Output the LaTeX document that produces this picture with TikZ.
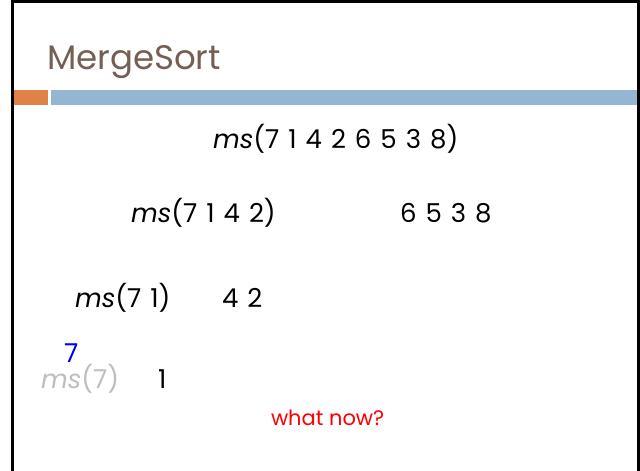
\documentclass[tikz,border=0pt]{standalone}
\usepackage{fontspec}
\setmainfont{Poppins}
\definecolor{titlebrown}{RGB}{117,95,85}
\definecolor{barorange}{RGB}{222,130,72}
\definecolor{barblue}{RGB}{149,182,211}
\definecolor{fadedgray}{RGB}{190,190,190}
% call text: larger size with wide word gaps between the numbers
\newcommand{\msfont}{\fontsize{26}{30}\selectfont\spaceskip=9pt plus 0pt minus 0pt\relax}
\begin{document}
\begin{tikzpicture}[x=1pt,y=-1pt,
  every node/.style={inner sep=0pt,outer sep=0pt,anchor=base west},
  call/.style={font=\msfont,text=black},
  ttl/.style={font=\fontsize{34}{40}\selectfont,text=titlebrown}]
  \useasboundingbox (0,0) rectangle (640,471);
  \fill[white] (0,0) rectangle (640,471);
  % slide frame
  \draw[line width=2.5pt] (12.5,471) -- (12.5,1.5) -- (638.5,1.5) -- (638.5,471);
  % header bars
  \fill[barorange] (14,90) rectangle (48,105);
  \fill[barblue] (51,90) rectangle (637,105);
  % title
  \node[ttl] (title) at (47,69) {MergeSort};
  % recursion levels
  \node[call] (top) at (213,148) {\textit{ms}(7 1 4 2 6 5 3 8)};
  \node[call] (left1) at (131,222) {\textit{ms}(7 1 4 2)};
  \node[call] (right1) at (400,222) {6 5 3 8};
  \node[call] (left2) at (75,307) {\textit{ms}(7 1)};
  \node[call] (right2) at (222,307) {4 2};
  \node[call,text=blue] (res) at (64,362) {7};
  \node[call,text=fadedgray] (left3) at (41,388) {\textit{ms}(7)};
  \node[call] (right3) at (158,388) {1};
  \node[font=\fontsize{21}{25}\selectfont,text=red] (q) at (271,425) {what now?};
\end{tikzpicture}
\end{document}
